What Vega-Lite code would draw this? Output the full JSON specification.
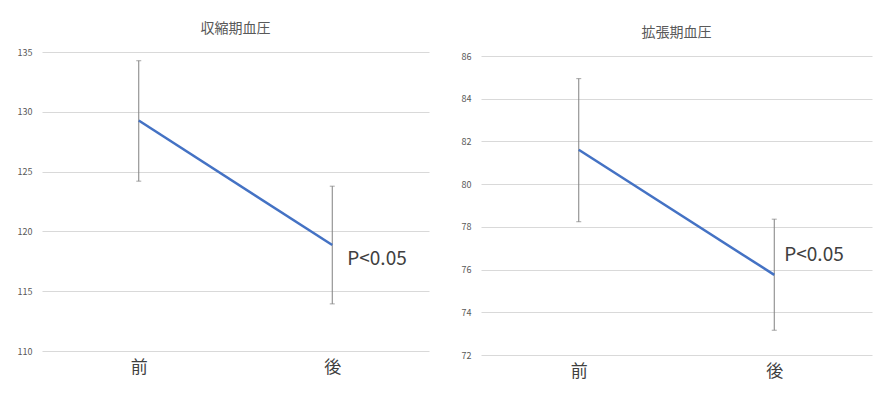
{
  "$schema": "https://vega.github.io/schema/vega-lite/v6.json",
  "padding": {"left": 17, "top": 22, "right": 10, "bottom": 10},
  "spacing": 32,
  "background": "white",
  "config": {
    "font": "Noto Sans CJK JP",
    "view": {"stroke": null},
    "title": {"fontSize": 14, "fontWeight": "normal", "color": "#595959", "anchor": "middle"},
    "axisY": {"grid": true, "gridColor": "#d9d9d9", "gridWidth": 1, "domain": false, "ticks": false, "labelFontSize": 9, "labelColor": "#595959", "labelPadding": 10, "title": null},
    "axisX": {"domain": false, "ticks": false, "grid": false, "labelFontSize": 17, "labelColor": "#404040", "labelAngle": 0, "labelPadding": 8, "title": null}
  },
  "datasets": {
    "sbp": [
      {"time": "前", "mean": 129.27, "lo": 124.2, "hi": 134.27},
      {"time": "後", "mean": 118.86, "lo": 113.94, "hi": 123.78}
    ],
    "dbp": [
      {"time": "前", "mean": 81.61, "lo": 78.24, "hi": 84.94},
      {"time": "後", "mean": 75.75, "lo": 73.16, "hi": 78.36}
    ],
    "sbp_ann": [{"time": "後", "y": 117.68, "label": "P<0.05"}],
    "dbp_ann": [{"time": "後", "y": 76.7, "label": "P<0.05"}]
  },
  "hconcat": [
    {
      "width": 387,
      "height": 299,
      "title": {"text": "収縮期血圧", "offset": 12},
      "encoding": {
        "x": {"field": "time", "type": "nominal", "sort": ["前", "後"], "scale": {"type": "point", "padding": 0.5}}
      },
      "layer": [
        {
          "data": {"name": "sbp"},
          "mark": {"type": "rule", "color": "#808080", "strokeWidth": 1},
          "encoding": {
            "y": {"field": "lo", "type": "quantitative", "scale": {"domain": [110, 135], "nice": false, "zero": false}, "axis": {"values": [110, 115, 120, 125, 130, 135]}},
            "y2": {"field": "hi"}
          }
        },
        {
          "data": {"name": "sbp"},
          "mark": {"type": "tick", "color": "#808080", "size": 5, "thickness": 1},
          "encoding": {"y": {"field": "lo", "type": "quantitative"}}
        },
        {
          "data": {"name": "sbp"},
          "mark": {"type": "tick", "color": "#808080", "size": 5, "thickness": 1},
          "encoding": {"y": {"field": "hi", "type": "quantitative"}}
        },
        {
          "data": {"name": "sbp"},
          "mark": {"type": "line", "color": "#4472C4", "strokeWidth": 2.5},
          "encoding": {"y": {"field": "mean", "type": "quantitative"}}
        },
        {
          "data": {"name": "sbp_ann"},
          "mark": {"type": "text", "align": "left", "baseline": "middle", "dx": 15, "fontSize": 19, "color": "#404040"},
          "encoding": {"y": {"field": "y", "type": "quantitative"}, "text": {"field": "label"}}
        }
      ]
    },
    {
      "width": 391,
      "height": 303,
      "title": {"text": "拡張期血圧", "offset": 12},
      "encoding": {
        "x": {"field": "time", "type": "nominal", "sort": ["前", "後"], "scale": {"type": "point", "padding": 0.5}}
      },
      "layer": [
        {
          "data": {"name": "dbp"},
          "mark": {"type": "rule", "color": "#808080", "strokeWidth": 1},
          "encoding": {
            "y": {"field": "lo", "type": "quantitative", "scale": {"domain": [72, 86.1875], "nice": false, "zero": false}, "axis": {"values": [72, 74, 76, 78, 80, 82, 84, 86]}},
            "y2": {"field": "hi"}
          }
        },
        {
          "data": {"name": "dbp"},
          "mark": {"type": "tick", "color": "#808080", "size": 5, "thickness": 1},
          "encoding": {"y": {"field": "lo", "type": "quantitative"}}
        },
        {
          "data": {"name": "dbp"},
          "mark": {"type": "tick", "color": "#808080", "size": 5, "thickness": 1},
          "encoding": {"y": {"field": "hi", "type": "quantitative"}}
        },
        {
          "data": {"name": "dbp"},
          "mark": {"type": "line", "color": "#4472C4", "strokeWidth": 2.5},
          "encoding": {"y": {"field": "mean", "type": "quantitative"}}
        },
        {
          "data": {"name": "dbp_ann"},
          "mark": {"type": "text", "align": "left", "baseline": "middle", "dx": 10, "fontSize": 19, "color": "#404040"},
          "encoding": {"y": {"field": "y", "type": "quantitative"}, "text": {"field": "label"}}
        }
      ]
    }
  ]
}
